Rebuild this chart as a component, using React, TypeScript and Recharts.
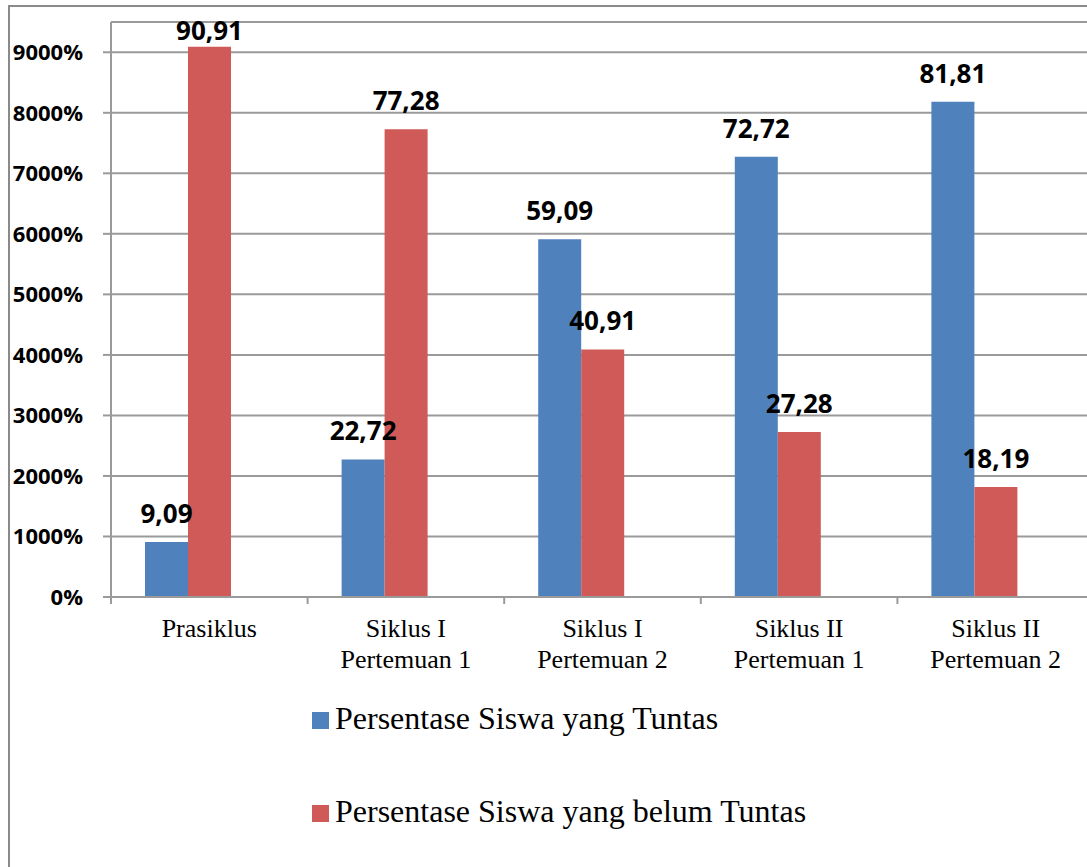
import React from 'react'
import {
  BarChart, Bar, XAxis, YAxis, CartesianGrid, Legend, LabelList,
} from 'recharts'

// categories (line breaks mark the two-line axis labels)
const categories = [
  'Prasiklus',
  'Siklus I\nPertemuan 1',
  'Siklus I\nPertemuan 2',
  'Siklus II\nPertemuan 1',
  'Siklus II\nPertemuan 2',
]

// percentages as printed on the bars
const tuntas = [9.09, 22.72, 59.09, 72.72, 81.81]
const belumTuntas = [90.91, 77.28, 40.91, 27.28, 18.19]

const yTicks = [0, 10, 20, 30, 40, 50, 60, 70, 80, 90]

const seriesNames = {
  tuntas: 'Persentase Siswa yang Tuntas',
  belum: 'Persentase Siswa yang belum Tuntas',
}

const BLUE = '#4F81BD'
const RED = '#CF5A57'
const GRID = '#9a9a9a'

const data = categories.map((name, i) => ({
  name,
  tuntas: tuntas[i],
  belum: belumTuntas[i],
  kosong: null as number | null, // empty third slot in every group
}))

const fmt = (v: number) => v.toFixed(2).replace('.', ',')

const ValueLabel = (props: any) => {
  const { x, y, width, value } = props
  if (value == null) return null
  const ty = Math.max(Number(y) - 19, 40)
  return (
    <text
      x={Number(x) + Number(width) / 2}
      y={ty}
      textAnchor="middle"
      fontFamily="'Open Sans', sans-serif"
      fontWeight={700}
      fontSize={26}
      fill="#000"
    >
      {fmt(Number(value))}
    </text>
  )
}

// label plus a tick mark on the left edge of each category band
const CategoryTick = (props: any) => {
  const { x, y, payload, width, visibleTicksCount } = props
  const band = Number(width) / Number(visibleTicksCount || categories.length)
  const lines = String(payload.value).split('\n')
  const edge = x - band / 2
  return (
    <g>
      <line x1={edge} x2={edge} y1={y} y2={y + 7} stroke={GRID} strokeWidth={2} />
      <text
        x={x}
        y={y}
        textAnchor="middle"
        fontFamily="'Liberation Serif', 'Times New Roman', serif"
        fontSize={26}
        fill="#000"
      >
        {lines.map((l, i) => (
          <tspan key={i} x={x} dy={i === 0 ? 40 : 31}>{l}</tspan>
        ))}
      </text>
    </g>
  )
}

const LegendBox = () => (
  <div style={{ fontFamily: "'Liberation Serif', 'Times New Roman', serif", fontSize: 32, color: '#000' }}>
    {[
      { name: seriesNames.tuntas, color: BLUE },
      { name: seriesNames.belum, color: RED },
    ].map((it, i) => (
      <div key={i} style={{ display: 'flex', alignItems: 'center', height: 37, marginBottom: i === 0 ? 56 : 0, whiteSpace: 'nowrap' }}>
        <span style={{ display: 'inline-block', width: 17, height: 17, background: it.color, marginRight: 6, marginTop: 4 }} />
        <span>{it.name}</span>
      </div>
    ))}
  </div>
)

export default function App() {
  return (
    <div style={{ position: 'absolute', left: 0, top: 0, width: 1087, height: 867, overflow: 'hidden', background: '#fff' }}>
      <div
        style={{
          position: 'absolute', left: 8, top: 5, width: 1200, height: 1000,
          borderLeft: '2px solid #8a8a8a', borderTop: '2px solid #8a8a8a',
        }}
      />
      <div style={{ position: 'absolute', left: 0, top: 0 }}>
        <BarChart
          width={1100}
          height={867}
          data={data}
          margin={{ top: 22, right: 6, left: 0, bottom: 190 }}
          barSize={43}
          barGap={0}
        >
          <CartesianGrid vertical={false} stroke={GRID} strokeWidth={2} />
          <XAxis
            dataKey="name"
            height={80}
            axisLine={{ stroke: GRID, strokeWidth: 2 }}
            tickLine={false}
            tickSize={0}
            tickMargin={0}
            interval={0}
            tick={<CategoryTick />}
          />
          <YAxis
            width={111}
            domain={[0, 95]}
            ticks={yTicks}
            allowDataOverflow
            tickSize={8}
            tickMargin={20}
            tickFormatter={(v: number) => `${v * 100}%`}
            tick={{ fontFamily: "'Open Sans', sans-serif", fontWeight: 700, fontSize: 22, fill: '#000' }}
            axisLine={{ stroke: GRID, strokeWidth: 2 }}
            tickLine={{ stroke: GRID, strokeWidth: 2 }}
          />
          <Legend
            layout="vertical"
            align="center"
            verticalAlign="middle"
            content={<LegendBox />}
            wrapperStyle={{ position: 'absolute', left: 312, top: 700, width: 'auto', height: 'auto' }}
          />
          <Bar dataKey="tuntas" name={seriesNames.tuntas} fill={BLUE} isAnimationActive={false}>
            <LabelList dataKey="tuntas" content={<ValueLabel />} />
          </Bar>
          <Bar dataKey="belum" name={seriesNames.belum} fill={RED} isAnimationActive={false}>
            <LabelList dataKey="belum" content={<ValueLabel />} />
          </Bar>
          <Bar dataKey="kosong" legendType="none" fill="transparent" isAnimationActive={false} />
        </BarChart>
      </div>
    </div>
  )
}
